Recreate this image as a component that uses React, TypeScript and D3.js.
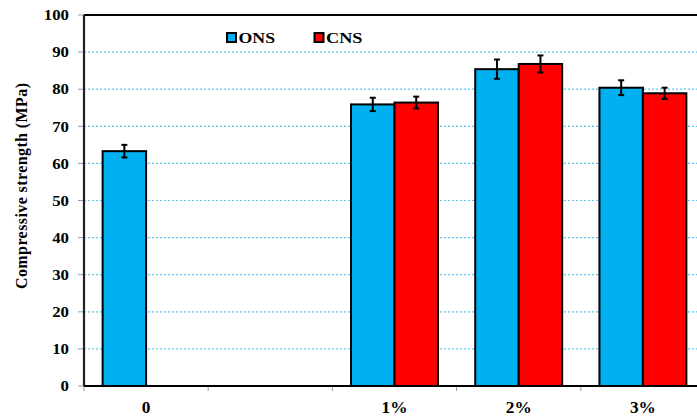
import React from "react";
import * as d3 from "d3";

// Compressive strength by nano-silica dosage
const categories = ["0", "", "1%", "2%", "3%"];
const seriesNames = ["ONS", "CNS"];
const onsValues: (number | null)[] = [63.3, null, 75.9, 85.4, 80.4];
const onsErrors: (number | null)[] = [1.7, null, 1.8, 2.6, 2.0];
const cnsValues: (number | null)[] = [null, null, 76.4, 86.8, 78.9];
const cnsErrors: (number | null)[] = [null, null, 1.6, 2.3, 1.5];
const yTicks = [0, 10, 20, 30, 40, 50, 60, 70, 80, 90, 100];
const gridValues = [10, 20, 30, 40, 50, 60, 70, 80, 90];

const W = 697;
const H = 419;
const left = 84;
const right = 705;
const top = 15;
const bottom = 386;

const colors: Record<string, string> = { ONS: "#00B0F0", CNS: "#FF0000" };
const font = "'Liberation Serif', 'Times New Roman', serif";

export default function App() {
  const x = d3
    .scaleBand<string>()
    .domain(categories.map((c, i) => String(i)))
    .range([left, right])
    .paddingInner(0.3)
    .paddingOuter(0.15);
  const sub = d3.scaleBand<string>().domain(seriesNames).range([0, x.bandwidth()]);
  const y = d3.scaleLinear().domain([0, 100]).range([bottom, top]);

  const series = [
    { name: "ONS", values: onsValues, errors: onsErrors },
    { name: "CNS", values: cnsValues, errors: cnsErrors },
  ];

  const step = x.step();
  const catEdges = categories.map((_, i) => left + i * step);

  return (
    <svg
      width={W}
      height={H}
      style={{ position: "absolute", left: 0, top: 0, background: "#fff" }}
      fontFamily={font}
    >
      {/* dotted gridlines */}
      {gridValues.map((v) => (
        <line
          key={"g" + v}
          x1={left}
          x2={right}
          y1={y(v)}
          y2={y(v)}
          stroke="#5CC8F2"
          strokeWidth={1.2}
          strokeDasharray="2 2"
        />
      ))}

      {/* y tick marks and labels */}
      {yTicks.map((v) => (
        <g key={"t" + v}>
          <line x1={left - 6} x2={left} y1={y(v)} y2={y(v)} stroke="#999" strokeWidth={1} />
          <text
            transform={`translate(69, ${y(v)}) scale(1.12, 1)`}
            dy="0.35em"
            textAnchor="end"
            fontSize={15}
            fontWeight="bold"
          >
            {v}
          </text>
        </g>
      ))}

      {/* category tick marks */}
      {catEdges.map((cx, i) => (
        <line key={"ct" + i} x1={cx} x2={cx} y1={bottom} y2={bottom + 5} stroke="#999" strokeWidth={1} />
      ))}

      {/* bars */}
      {series.map((s) =>
        s.values.map((v, i) =>
          v == null ? null : (
            <rect
              key={s.name + i}
              x={(x(String(i)) as number) + (sub(s.name) as number)}
              y={y(v)}
              width={sub.bandwidth()}
              height={bottom - y(v)}
              fill={colors[s.name]}
              stroke="#000"
              strokeWidth={2}
            />
          )
        )
      )}

      {/* error bars */}
      {series.map((s) =>
        s.values.map((v, i) => {
          const e = s.errors[i];
          if (v == null || e == null) return null;
          const cx = (x(String(i)) as number) + (sub(s.name) as number) + sub.bandwidth() / 2;
          return (
            <g key={"e" + s.name + i} stroke="#000" strokeWidth={2}>
              <line x1={cx} x2={cx} y1={y(v + e)} y2={y(v - e)} />
              <line x1={cx - 3} x2={cx + 3} y1={y(v + e)} y2={y(v + e)} />
              <line x1={cx - 3} x2={cx + 3} y1={y(v - e)} y2={y(v - e)} />
            </g>
          );
        })
      )}

      {/* frame */}
      <line x1={left} x2={right} y1={top} y2={top} stroke="#000" strokeWidth={2.2} />
      <line x1={left} x2={left} y1={top} y2={bottom} stroke="#222" strokeWidth={2.2} />
      <line x1={left} x2={right} y1={bottom} y2={bottom} stroke="#000" strokeWidth={2.2} />

      {/* x labels */}
      {categories.map((c, i) => (
        <text
          key={"x" + i}
          transform={`translate(${(x(String(i)) as number) + x.bandwidth() / 2}, 412.5) scale(1.08, 1)`}
          textAnchor="middle"
          fontSize={16}
          fontWeight="bold"
        >
          {c}
        </text>
      ))}

      {/* y axis title */}
      <text
        transform={`translate(26.5, 186) rotate(-90)`}
        textAnchor="middle"
        fontSize={16}
        fontWeight="bold"
        textLength={206}
        lengthAdjust="spacing"
      >
        Compressive strength (MPa)
      </text>

      {/* legend */}
      {seriesNames.map((n, i) => {
        const lx = i === 0 ? 227 : 314.5;
        return (
          <g key={"l" + n}>
            <rect x={lx} y={33} width={9} height={9} fill={colors[n]} stroke="#000" strokeWidth={2} />
            <text
              x={lx + 11.5}
              y={42.5}
              fontSize={15}
              fontWeight="bold"
              textLength={36.5}
              lengthAdjust="spacingAndGlyphs"
            >
              {n}
            </text>
          </g>
        );
      })}
    </svg>
  );
}
